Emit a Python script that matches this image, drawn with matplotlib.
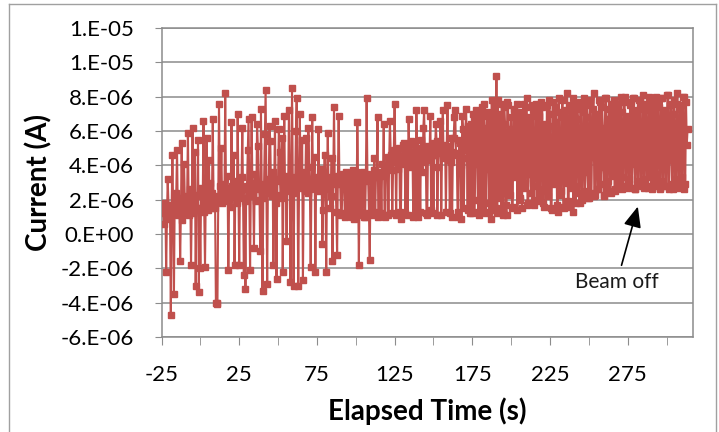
#!/usr/bin/env python3
"""
Beam current vs elapsed time, redrawn from an Excel scatter chart.

Writes:
    out.png
"""

import numpy as np
import matplotlib
matplotlib.use("Agg")
import matplotlib.pyplot as plt
from matplotlib.lines import Line2D
from matplotlib.ticker import FuncFormatter, FixedLocator


# logger took two readings per second, first one at t = -24 s
T_START_S = -24.0
T_STEP_S = 0.5

# current readings in microamps, one row per 5 s
current_ua = [
    # -24 .. -19.5
    1.5, 0.6, 1.2, 1.8, -2.2, 1.0, 3.2, 1.7, 1.4, 0.9,
    # -19 .. -14.5
    -4.7, 1.3, 4.6, 1.5, -3.5, 2.0, 1.3, 2.4, 4.9, 1.1,
    # -14 .. -9.5
    1.6, 2.1, -1.6, 1.4, 5.3, 0.8, 1.2, 4.1, 2.0, 1.7,
    # -9 .. -4.5
    1.4, 2.2, 5.9, 1.5, 1.1, 2.6, -1.8, 1.9, 6.2, 1.2,
    # -4 .. 0.5
    1.8, 4.8, -3.0, 2.3, 1.5, 5.5, -3.4, 1.4, -2.0, 2.7,
    # 1 .. 5.5
    2.2, 1.6, 6.6, 1.3, -1.9, 2.5, 5.6, 1.9, 1.4, 4.3,
    # 6 .. 10.5
    2.0, 3.0, 1.5, 2.4, 6.7, 1.7, 2.1, 1.5, -4.0, -4.1,
    # 11 .. 15.5
    -4.0, 2.2, 7.6, 2.8, 2.4, 5.0, 1.8, 2.9, 2.6, 1.9,
    # 16 .. 20.5
    8.2, 2.5, 2.3, 3.4, -2.1, 2.0, 2.7, 1.6, 6.5, 2.8,
    # 21 .. 25.5
    2.2, 4.6, -1.8, 2.5, 3.1, 1.8, 7.0, 2.3, -1.8, 2.9,
    # 26 .. 30.5
    2.5, 3.3, 6.2, 2.1, -2.4, 1.9, -3.2, 2.6, 2.8, 4.9,
    # 31 .. 35.5
    6.7, 2.2, -2.1, 3.0, 6.8, 2.7, 2.4, -0.8, 3.5, 2.0,
    # 36 .. 40.5
    1.9, 6.4, 5.1, 2.8, 2.6, -1.0, 7.3, 2.5, -3.3, 2.1,
    # 41 .. 45.5
    2.9, 5.8, 8.4, 2.6, -2.9, 3.2, 3.0, 6.3, 5.4, 2.4,
    # 46 .. 50.5
    2.2, 3.6, -1.8, 2.7, 6.6, 1.8, -2.6, 3.1, 3.2, 6.1,
    # 51 .. 55.5
    4.8, 2.3, 2.1, 5.6, -2.2, 2.9, 6.9, 2.5, 2.7, -0.4,
    # 56 .. 60.5
    3.4, 2.6, 7.2, 3.0, -2.8, 2.8, 8.5, 2.4, -3.0, 3.3,
    # 61 .. 65.5
    2.6, 6.0, 7.9, 2.9, -3.0, 2.7, 7.0, 3.4, 3.1, 5.5,
    # 66 .. 70.5
    -2.7, 2.8, 3.6, 2.5, 5.6, 3.1, 2.4, 6.2, 3.9, 2.6,
    # 71 .. 75.5
    -1.9, 3.0, 6.8, 2.7, 2.9, 4.5, -2.2, 3.2, 3.3, 2.5,
    # 76 .. 80.5
    6.1, 2.9, 2.6, 3.5, 3.8, -0.6, 1.4, 3.1, 4.6, 2.8,
    # 81 .. 85.5
    -2.2, 3.3, 5.9, 2.6, 3.0, 1.5, 2.2, 4.4, -1.6, 3.2,
    # 86 .. 90.5
    7.4, 2.9, 3.1, 1.3, -1.2, 3.4, 6.9, 3.0, 2.9, 1.1,
    # 91 .. 95.5
    1.2, 3.5, 3.3, 2.8, 1.0, 3.6, 3.5, 1.2, 2.8, 3.4,
    # 96 .. 100.5
    1.1, 3.2, 3.4, 1.0, 3.2, 3.7, 0.9, 3.3, 3.6, 1.2,
    # 101 .. 105.5
    6.5, 3.1, -1.8, 3.4, 3.0, 1.1, 1.3, 3.6, 3.5, 1.0,
    # 106 .. 110.5
    1.0, 3.3, 7.9, 3.5, 3.1, 1.2, -1.5, 3.4, 3.4, 1.1,
    # 111 .. 115.5
    1.2, 3.7, 4.4, 1.3, 3.3, 3.6, 6.8, 1.0, 1.1, 3.5,
    # 116 .. 120.5
    3.6, 1.2, 4.1, 3.4, 6.4, 1.1, 1.0, 3.9, 3.8, 4.5,
    # 121 .. 125.5
    1.1, 4.3, 6.6, 4.6, 4.2, 1.2, 3.7, 4.9, 7.6, 4.4,
    # 126 .. 130.5
    1.1, 4.7, 4.6, 3.8, 5.0, 1.3, 0.9, 4.5, 4.4, 5.2,
    # 131 .. 135.5
    5.3, 4.1, 1.2, 4.9, 4.8, 1.1, 6.7, 4.3, 3.9, 5.4,
    # 136 .. 140.5
    4.5, 4.8, 1.0, 4.6, 5.2, 1.2, 7.2, 4.4, 1.0, 5.0,
    # 141 .. 145.5
    4.7, 1.3, 5.5, 4.2, 3.6, 6.2, 7.2, 4.5, 4.9, 1.2,
    # 146 .. 150.5
    1.1, 5.1, 4.3, 4.8, 6.9, 1.4, 5.0, 4.6, 1.2, 5.3,
    # 151 .. 155.5
    4.6, 6.4, 5.4, 1.1, 3.9, 5.0, 4.8, 6.6, 1.1, 4.7,
    # 156 .. 160.5
    7.2, 4.4, 4.5, 5.2, 1.3, 4.9, 7.5, 4.3, 5.1, 1.2,
    # 161 .. 165.5
    4.2, 5.6, 1.0, 4.8, 5.6, 6.8, 7.2, 4.6, 4.7, 1.3,
    # 166 .. 170.5
    1.0, 5.5, 5.3, 4.0, 0.9, 6.9, 6.1, 1.5, 4.4, 5.7,
    # 171 .. 175.5
    7.3, 4.9, 1.4, 6.3, 5.8, 1.2, 6.4, 4.6, 1.2, 7.0,
    # 176 .. 180.5
    6.8, 1.3, 4.1, 7.2, 7.0, 2.0, 1.1, 6.6, 5.5, 1.4,
    # 181 .. 185.5
    7.4, 3.2, 1.6, 7.6, 6.2, 1.2, 3.8, 6.9, 7.1, 1.8,
    # 186 .. 190.5
    1.3, 6.5, 0.9, 7.8, 6.9, 1.4, 7.5, 3.6, 1.5, 9.2,
    # 191 .. 195.5
    1.2, 7.8, 2.1, 7.0, 5.9, 1.3, 7.6, 2.4, 1.1, 7.4,
    # 196 .. 200.5
    6.4, 1.7, 1.1, 7.7, 7.5, 2.6, 2.3, 6.1, 6.8, 1.5,
    # 201 .. 205.5
    1.6, 7.2, 7.3, 3.3, 4.4, 7.6, 1.4, 6.5, 7.0, 2.1,
    # 206 .. 210.5
    2.0, 7.1, 1.5, 6.3, 7.6, 2.7, 3.0, 7.4, 7.9, 1.7,
    # 211 .. 215.5
    1.8, 6.8, 6.6, 3.5, 2.4, 7.5, 7.2, 2.0, 1.7, 6.9,
    # 216 .. 220.5
    7.6, 2.8, 1.9, 7.3, 6.9, 2.2, 2.6, 7.7, 7.4, 1.8,
    # 221 .. 225.5
    1.6, 6.4, 5.8, 2.5, 7.5, 4.0, 2.2, 7.8, 6.3, 1.5,
    # 226 .. 230.5
    1.4, 7.0, 7.7, 2.9, 3.2, 7.4, 6.5, 1.7, 1.3, 7.9,
    # 231 .. 235.5
    7.1, 2.3, 2.5, 6.8, 7.8, 1.6, 1.5, 7.2, 6.0, 3.0,
    # 236 .. 240.5
    8.2, 1.9, 1.6, 7.5, 7.2, 2.7, 3.4, 7.9, 1.3, 6.6,
    # 241 .. 245.5
    7.6, 1.8, 2.8, 7.3, 6.7, 2.4, 1.8, 7.7, 7.4, 2.0,
    # 246 .. 250.5
    2.2, 7.1, 7.9, 2.5, 3.6, 7.6, 6.8, 2.1, 2.1, 7.8,
    # 251 .. 255.5
    7.5, 2.4, 4.5, 7.3, 8.2, 2.2, 2.3, 6.9, 7.0, 2.6,
    # 256 .. 260.5
    2.6, 7.8, 7.7, 2.9, 3.9, 7.4, 6.2, 2.3, 2.2, 7.9,
    # 261 .. 265.5
    7.9, 2.7, 3.1, 6.7, 7.3, 2.5, 2.4, 7.6, 6.6, 3.4,
    # 266 .. 270.5
    7.8, 2.6, 2.5, 7.2, 5.4, 2.9, 7.6, 3.0, 2.8, 8.0,
    # 271 .. 275.5
    7.1, 2.6, 3.3, 7.7, 8.0, 2.8, 2.7, 6.9, 6.5, 3.2,
    # 276 .. 280.5
    2.9, 7.5, 7.7, 2.7, 4.1, 7.9, 7.9, 2.6, 2.6, 7.2,
    # 281 .. 285.5
    6.9, 3.1, 3.0, 7.8, 7.5, 2.9, 2.8, 7.3, 8.1, 2.7,
    # 286 .. 290.5
    3.2, 7.6, 7.2, 2.8, 2.7, 8.0, 6.4, 3.3, 7.8, 2.6,
    # 291 .. 295.5
    2.9, 7.4, 5.7, 2.8, 8.0, 3.1, 3.5, 7.7, 7.4, 2.7,
    # 296 .. 300.5
    2.6, 7.9, 7.9, 3.0, 3.1, 7.2, 6.8, 2.8, 2.8, 8.1,
    # 301 .. 305.5
    8.1, 2.6, 4.3, 7.5, 7.6, 2.9, 2.6, 7.8, 7.0, 3.2,
    # 306 .. 310.5
    3.0, 7.6, 8.2, 2.8, 2.7, 7.3, 7.5, 3.1, 3.3, 8.0,
    # 311 .. 313.5
    8.0, 2.6, 2.9, 7.7, 5.2, 6.1,
]

x_major_ticks = [-25, 25, 75, 125, 175, 225, 275]
x_minor_ticks = [0, 50, 100, 150, 200, 250, 300]
y_ticks = [-6e-6, -4e-6, -2e-6, 0.0, 2e-6, 4e-6, 6e-6, 8e-6, 1.0e-5, 1.2e-5]

X_LIM = (-25, 317)
Y_LIM = (-6e-6, 1.2e-5)

# "Beam off" note: text position and arrow tip, in data units
note_text = "Beam off"
note_text_xy = (268.0, -2.8e-6)
note_arrow_xy = (281.5, 1.6e-6)

SERIES_COLOR = "#C0504D"
GRID_COLOR = "#8C8C8C"


def excel_sci(v, _pos):
    # Excel "0.E+00" number format
    return format(v, "#.0E")


def main() -> None:
    plt.rcParams["font.family"] = ["Lato", "DejaVu Sans"]
    plt.rcParams["axes.unicode_minus"] = False

    current_a = np.array(current_ua) * 1e-6
    time_s = T_START_S + T_STEP_S * np.arange(len(current_a))

    fig = plt.figure(figsize=(7.19, 4.32), dpi=100)
    ax = fig.add_axes([161.5 / 719, (432 - 337) / 432,
                       (693 - 161.5) / 719, (337 - 28) / 432])

    # chart-area border like the Excel frame
    fig.add_artist(Line2D([9 / 719, 9 / 719], [0, 1 - 4 / 432],
                          transform=fig.transFigure, color="#A0A0A0", lw=1))
    fig.add_artist(Line2D([9 / 719, 716 / 719], [1 - 4 / 432, 1 - 4 / 432],
                          transform=fig.transFigure, color="#A0A0A0", lw=1))
    fig.add_artist(Line2D([716 / 719, 716 / 719], [0, 1 - 4 / 432],
                          transform=fig.transFigure, color="#A0A0A0", lw=1))

    ax.plot(time_s, current_a, color=SERIES_COLOR, lw=1.5,
            marker="s", ms=3.8, mfc=SERIES_COLOR, mec=SERIES_COLOR, zorder=3)

    ax.set_xlim(*X_LIM)
    ax.set_ylim(*Y_LIM)

    ax.xaxis.set_major_locator(FixedLocator(x_major_ticks))
    ax.xaxis.set_minor_locator(FixedLocator(x_minor_ticks))
    ax.yaxis.set_major_locator(FixedLocator(y_ticks))
    ax.yaxis.set_major_formatter(FuncFormatter(excel_sci))

    ax.grid(True, axis="y", color=GRID_COLOR, lw=1.1, zorder=0)
    for side in ["left", "bottom", "right", "top"]:
        ax.spines[side].set_color(GRID_COLOR)
        ax.spines[side].set_linewidth(1.1)

    ax.tick_params(axis="y", which="major", direction="out", length=5,
                   color=GRID_COLOR, labelsize=16, pad=15)
    ax.tick_params(axis="x", which="both", direction="out", length=6,
                   color=GRID_COLOR, labelsize=16, pad=14)

    ax.set_xlabel("Elapsed Time (s)", fontsize=20, fontweight="bold", labelpad=9)
    ax.set_ylabel("Current (A)", fontsize=20, fontweight="bold", labelpad=6)

    ax.annotate(
        note_text,
        xy=note_arrow_xy,
        xytext=note_text_xy,
        ha="center",
        va="center",
        fontsize=15,
        color="#1A1A1A",
        arrowprops=dict(arrowstyle="-|>,head_length=0.7,head_width=0.3",
                        color="black", lw=1.2, mutation_scale=18,
                        shrinkA=3, shrinkB=0),
    )

    fig.savefig("out.png", dpi=100)
    plt.close(fig)


if __name__ == "__main__":
    main()
